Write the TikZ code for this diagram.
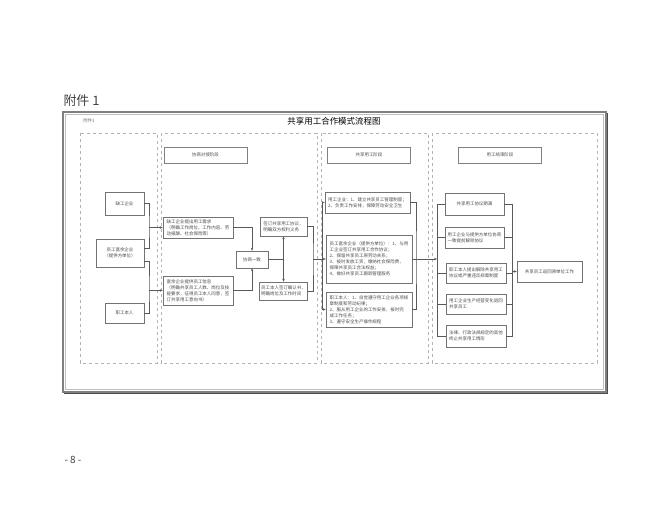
\documentclass[tikz,border=0pt]{standalone}
\usepackage{fontspec}
\setmainfont{Noto Sans CJK SC}
\usetikzlibrary{arrows.meta}
\XeTeXlinebreaklocale "zh"

\tikzset{
  lane/.style={draw=black!30, dashed, line width=0.4bp},
  headbox/.style={draw=black!50, line width=0.5bp, minimum width=83bp, minimum height=16bp, text=black!70, font=\fontsize{4.5}{6}\selectfont},
  procbox/.style={draw=black!55, line width=0.5bp, align=left, inner sep=1.5bp, text=black!70, font=\fontsize{4.5}{6}\selectfont},
  flow/.style={draw=black!65, line width=0.45bp},
}

\begin{document}
\begin{tikzpicture}[x=1bp,y=-1bp,>={Stealth[length=3bp,width=2.4bp]}]
\useasboundingbox (0,0) rectangle (650,510);

% page texts
\node[anchor=west, font=\fontsize{13}{13}\selectfont, text=black!75] (annex) at (60,101) {附件 1};
\node[font=\fontsize{10}{10}\selectfont, text=black!75] (page) at (73,460) {- 8 -};

% frame
\draw[black!50, line width=1.2bp] (63,112) rectangle (606,392);
\draw[black!70, line width=1bp] (64,393) -- (607,393) -- (607,113);
\draw[black!25, line width=0.4bp] (65.5,114.5) rectangle (603.5,389.5);
\node[font=\fontsize{4.5}{5}\selectfont, text=black!55] (small) at (89,121) {附件1};
\node[font=\fontsize{8.5}{9}\selectfont] (title) at (334,121) {共享用工合作模式流程图};

% lanes
\draw[lane] (80,133) rectangle (157,363);
\draw[lane] (161,133) rectangle (317,363);
\draw[lane] (321,133) rectangle (428,363);
\draw[lane] (432,133) rectangle (597,363);

\node[headbox] (hdr2) at (205.5,155) {协商对接阶段};
\node[headbox] (hdr3) at (369,155) {共享用工阶段};
\node[headbox] (hdr4) at (500,155) {用工结束阶段};

% parties
\node[procbox, align=center, minimum width=39bp, minimum height=23bp] (A) at (124.5,203.5) {缺工企业};
\node[procbox, align=center, minimum width=48bp, minimum height=28bp] (B) at (120,253) {员工富余企业\\（提供方单位）};
\node[procbox, align=center, minimum width=39bp, minimum height=20bp] (C) at (124.5,313) {职工本人};

% negotiation
\node[procbox, minimum width=70bp, minimum height=21bp] (D) at (198,227.5) {缺工企业提出用工需求\\（明确工作岗位、工作内容、劳\\动报酬、社会保险等）};
\node[procbox, align=center, minimum width=32bp, minimum height=17bp] (E) at (252,259.5) {协商一致};
\node[procbox, minimum width=70bp, minimum height=29bp] (F) at (198,290.5) {富余企业提供员工信息\\（明确共享员工人数、岗位及技\\能要求，征得员工本人同意，签\\订共享用工意向书）};
\node[procbox, minimum width=47bp, minimum height=19bp] (G) at (283.5,226.5) {签订共享用工协议，\\明确双方权利义务};
\node[procbox, minimum width=47bp, minimum height=18bp] (H) at (283.5,291) {员工本人签订确认书，\\明确岗位及工作时间};

% sharing
\node[procbox, minimum width=85bp, minimum height=21bp] (I) at (367.5,202.5) {用工企业：1、建立共享员工管理制度；\\2、负责工作安排，保障劳动安全卫生};
\node[procbox, minimum width=86bp, minimum height=48bp] (J) at (369,259) {员工富余企业（提供方单位）：1、与用\\工企业签订共享用工合作协议；\\2、保留共享员工原劳动关系；\\3、按时发放工资，缴纳社会保险费，\\保障共享员工合法权益；\\4、做好共享员工跟踪管理服务};
\node[procbox, minimum width=86bp, minimum height=35bp] (K) at (369,309.5) {职工本人：1、自觉遵守用工企业各项规\\章制度和劳动纪律；\\2、服从用工企业的工作安排，按时完\\成工作任务；\\3、遵守安全生产操作规程};

% ending
\node[procbox, align=center, minimum width=59bp, minimum height=22bp] (L) at (474.5,204) {共享用工协议期满};
\node[procbox, minimum width=59bp, minimum height=21bp] (M) at (474.5,237.5) {用工企业与提供方单位协商\\一致提前解除协议};
\node[procbox, minimum width=60bp, minimum height=20bp] (N) at (476,273) {职工本人提出解除共享用工\\协议或严重违反规章制度};
\node[procbox, minimum width=60bp, minimum height=20bp] (O) at (476,304) {用工企业生产经营变化退回\\共享员工};
\node[procbox, minimum width=60bp, minimum height=22bp] (P) at (476,336) {法律、行政法规规定的其他\\终止共享用工情形};
\node[procbox, align=center, minimum width=65bp, minimum height=21bp] (Q) at (549.5,271.5) {共享员工返回原单位工作};

% junctions
\coordinate (bus1a) at (149,227.5);
\coordinate (bus1b) at (149,290.5);
\coordinate (busE) at (283.5,259.5);
\coordinate (bus2) at (313,259);
\coordinate (bus3) at (322.5,259);
\coordinate (bus4) at (416,259);
\coordinate (bus5) at (437,259);
\coordinate (bus6) at (512,271.5);

\draw[flow] (A.east) -| (bus1a) |- ([yshift=5bp]B.east);
\draw[flow] ([yshift=-8bp]B.east) -| (bus1b) |- (C.east);
\draw[flow,->] (bus1a) -- (D.west);
\draw[flow,->] (bus1b) -- (F.west);

\draw[flow,->] (D.east) -| (E.north);
\draw[flow,->] (F.east) -| (E.south);
\draw[flow] (E.east) -- (busE);
\draw[flow,->] (busE) -- (G.south);
\draw[flow,->] (busE) -- (H.north);

\draw[flow] (G.east) -| (bus2) |- (H.east);
\draw[flow,->] (bus2) -- (J.west);
\draw[flow,->] (bus3) |- (I.west);
\draw[flow,->] (bus3) |- (K.west);

\draw[flow] (I.east) -| (bus4) |- (K.east);
\draw[flow] (J.east) -- (bus4);
\draw[flow,->] (bus4) -- (bus5);

\foreach \b in {L,M,N,O,P}{
  \draw[flow] (bus5) |- (\b.west);
  \draw[flow] (\b.east) -| (bus6);
}
\draw[flow,->] (bus6) -- (Q.west);
\end{tikzpicture}
\end{document}
